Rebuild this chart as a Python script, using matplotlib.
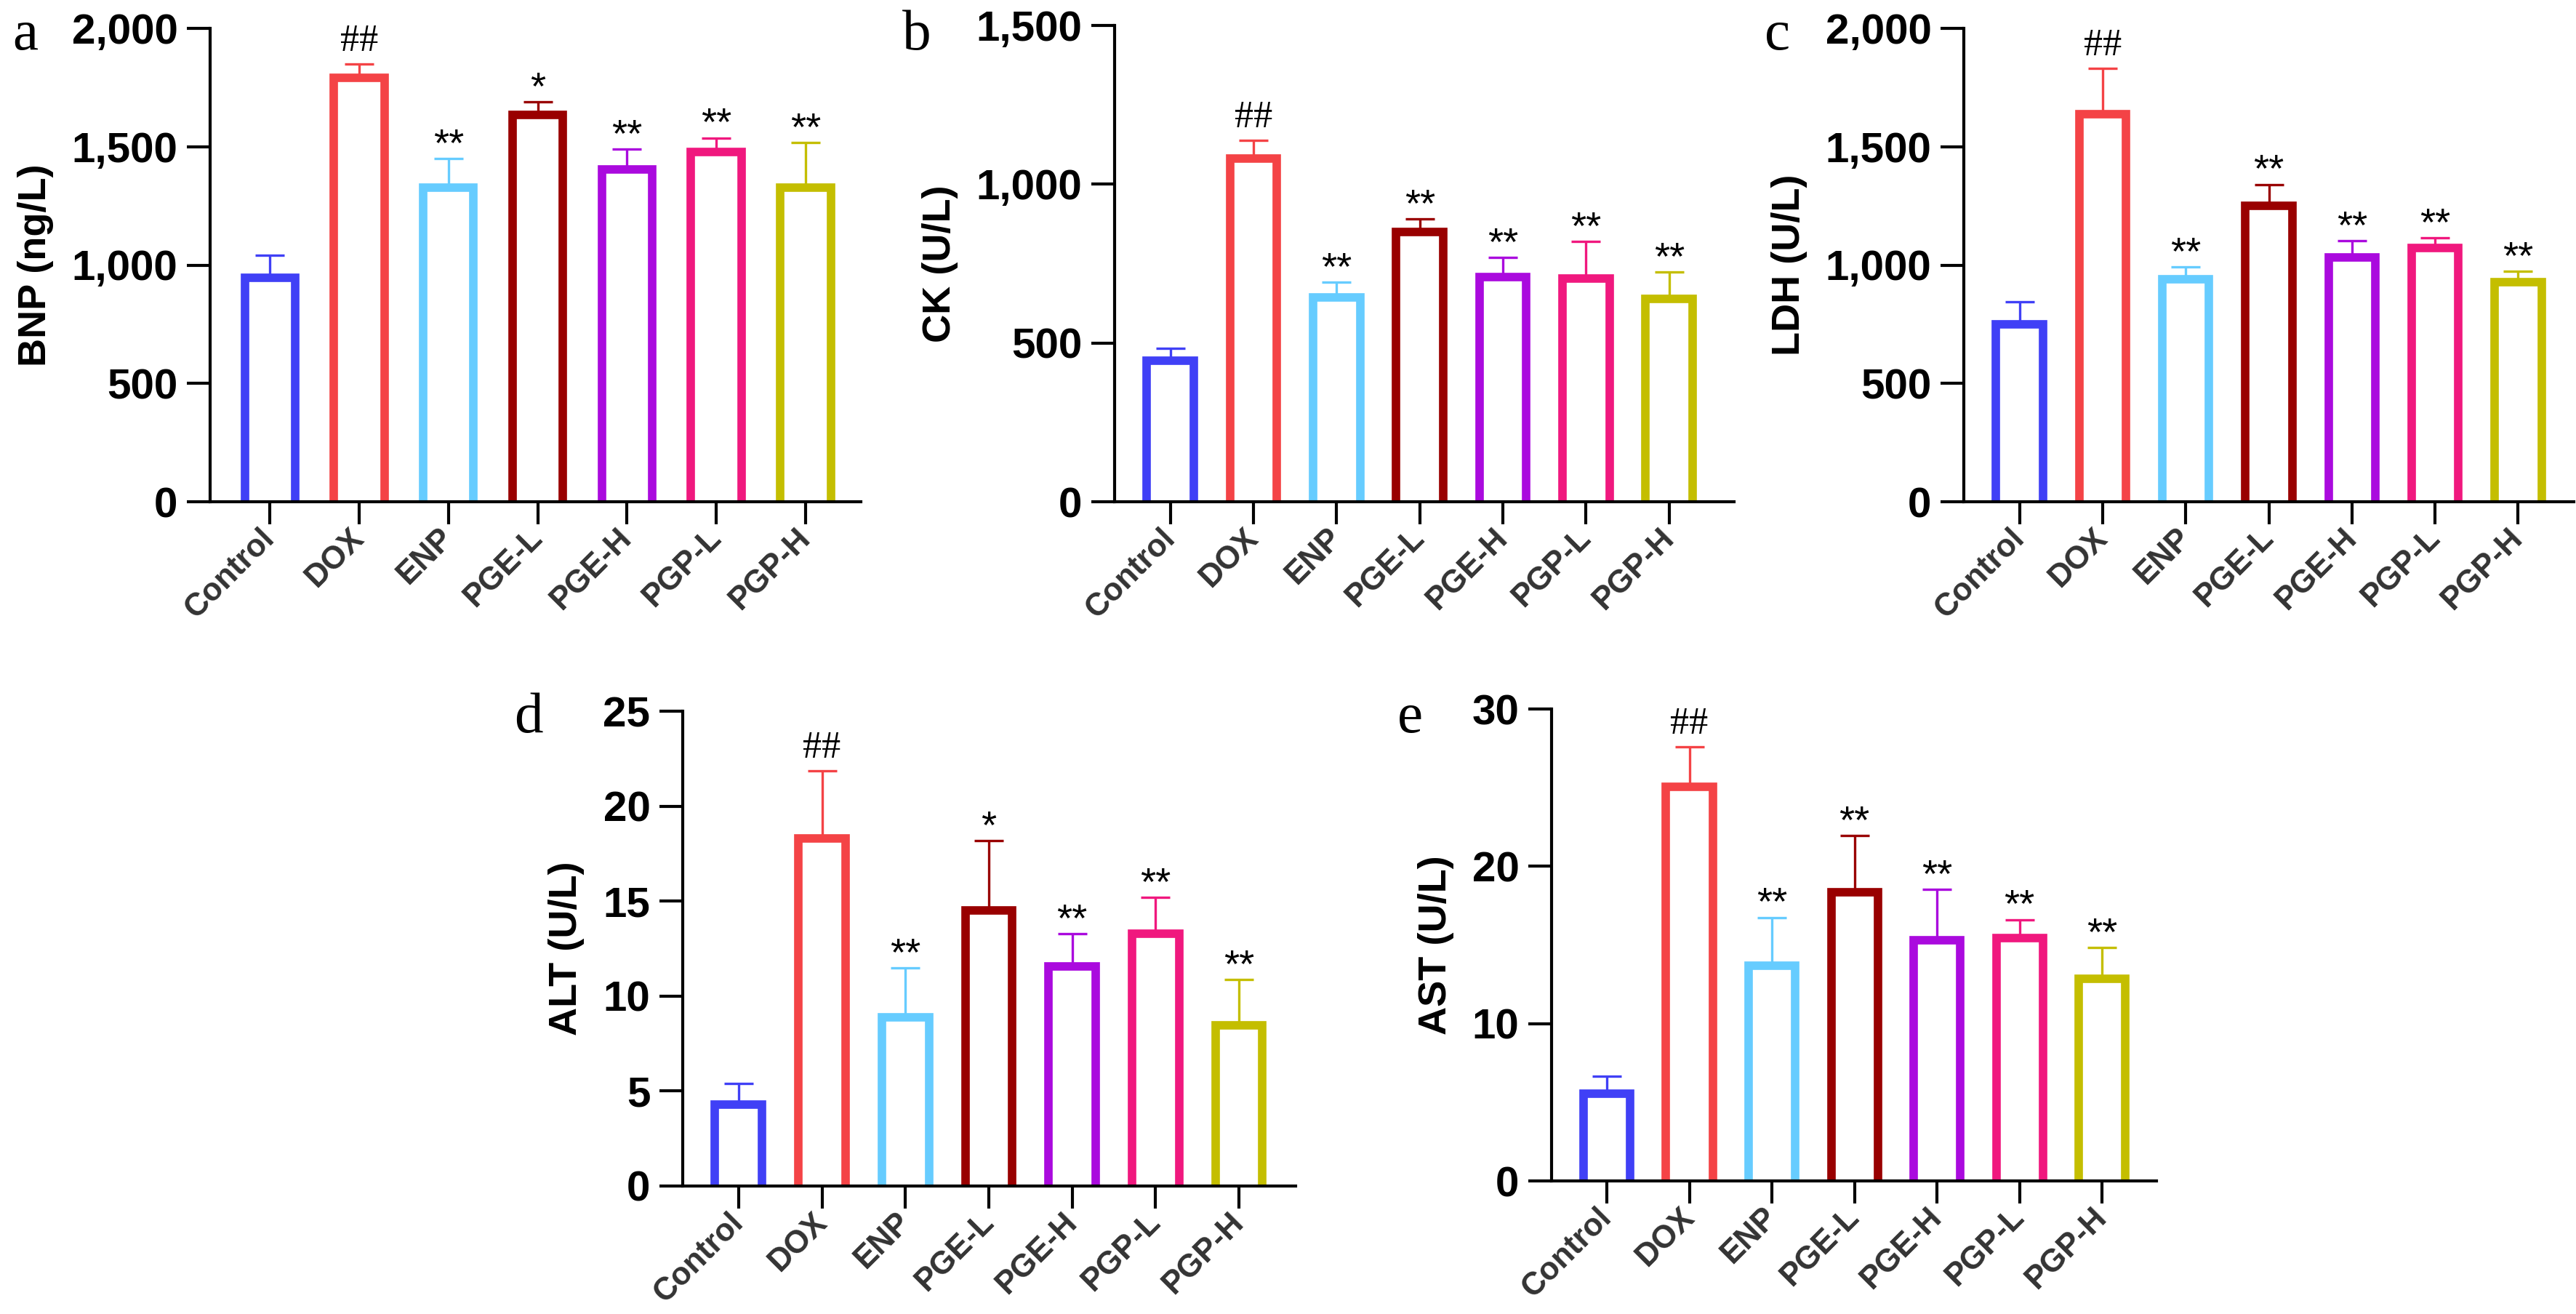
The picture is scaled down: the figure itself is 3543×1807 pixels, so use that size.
import matplotlib
matplotlib.use("Agg")
import matplotlib.pyplot as plt
import numpy as np
from matplotlib.ticker import MultipleLocator, StrMethodFormatter
from matplotlib.transforms import ScaledTranslation

plt.rcParams["font.family"] = ["Liberation Sans", "DejaVu Sans"]

groups = ["Control", "DOX", "ENP", "PGE-L", "PGE-H", "PGP-L", "PGP-H"]
colors = ["#4040F6", "#F44346", "#66CCFF", "#990000", "#AA0ADE", "#F0187E", "#C4BE00"]

bnp_mean = [946, 1790, 1327, 1635, 1404, 1479, 1326]
bnp_sd = [95, 60, 122, 55, 86, 58, 191]
bnp_marks = ["", "##", "**", "*", "**", "**", "**"]

ck_mean = [444, 1082, 644, 849, 708, 703, 639]
ck_sd = [39, 57, 47, 41, 62, 116, 84]
ck_marks = ["", "##", "**", "**", "**", "**", "**"]

ldh_mean = [751, 1637, 939, 1251, 1032, 1071, 928]
ldh_sd = [93, 193, 52, 90, 70, 43, 46]
ldh_marks = ["", "##", "**", "**", "**", "**", "**"]

alt_mean = [4.30, 18.30, 8.87, 14.52, 11.56, 13.28, 8.48]
alt_sd = [1.08, 3.56, 2.60, 3.67, 1.72, 1.92, 2.38]
alt_marks = ["", "##", "**", "*", "**", "**", "**"]

ast_mean = [5.57, 25.05, 13.66, 18.33, 15.30, 15.46, 12.87]
ast_sd = [1.07, 2.55, 3.09, 3.61, 3.22, 1.15, 1.97]
ast_marks = ["", "##", "**", "**", "**", "**", "**"]

W, H = 3543, 1807


def px_box(left, right, top, bottom):
    # pixel box of the plotting area -> figure fraction
    return [left / W, 1 - bottom / H, (right - left) / W, (bottom - top) / H]


def draw_panel(ax, means, sds, marks, ylabel, ymax, step, xright):
    x = np.arange(len(groups))
    means = np.asarray(means, dtype=float)
    sds = np.asarray(sds, dtype=float)
    for xi, m, s, c in zip(x, means, sds, colors):
        ax.errorbar(xi, m, yerr=[[0], [s]], fmt="none", ecolor=c,
                    elinewidth=0.8, capsize=4.8, capthick=0.8, zorder=1)
    # start bars a bit below zero so the bottom edge is clipped away
    base = -0.012 * ymax
    ax.bar(x, means - base, bottom=base, width=0.565, facecolor="white",
           edgecolor=colors, linewidth=2.8, zorder=2)
    for xi, top, m in zip(x, means + sds, marks):
        if not m:
            continue
        if m.startswith("#"):
            ax.annotate(m, (xi, top), xytext=(0, 4.3), textcoords="offset points",
                        ha="center", va="baseline", fontsize=12.5,
                        family=["Liberation Serif", "DejaVu Serif"])
        else:
            ax.annotate(m, (xi, top), xytext=(0, 1.0), textcoords="offset points",
                        ha="center", va="baseline", fontsize=13)

    ax.set_xlim(-0.67, xright)
    ax.set_ylim(0, ymax)
    ax.yaxis.set_major_locator(MultipleLocator(step))
    ax.yaxis.set_major_formatter(StrMethodFormatter("{x:,.0f}"))
    ax.set_xticks(x)
    ax.set_xticklabels(groups, rotation=45, ha="right", va="center",
                       rotation_mode="anchor", fontweight="bold",
                       fontsize=10.5, color="#333333")
    shift = ScaledTranslation(9 / 300, 0, ax.figure.dpi_scale_trans)
    for lab in ax.get_xticklabels():
        lab.set_transform(lab.get_transform() + shift)
    ax.tick_params(axis="x", length=7.5, width=1.0, pad=3)
    ax.tick_params(axis="y", length=7.7, width=1.0, pad=3, labelsize=14)
    for lab in ax.get_yticklabels():
        lab.set_fontweight("bold")
    ax.spines["top"].set_visible(False)
    ax.spines["right"].set_visible(False)
    ax.spines["left"].set_linewidth(1.0)
    ax.spines["bottom"].set_linewidth(1.0)
    ax.set_ylabel(ylabel, fontsize=13, fontweight="bold", labelpad=6)


fig = plt.figure(figsize=(W / 300, H / 300), dpi=300)

panels = [
    (px_box(289, 1184, 39, 690), bnp_mean, bnp_sd, bnp_marks, "BNP (ng/L)", 2000, 500, 6.62),
    (px_box(1533, 2385, 35, 690), ck_mean, ck_sd, ck_marks, "CK (U/L)", 1500, 500, 6.78),
    (px_box(2701, 3540, 39, 690), ldh_mean, ldh_sd, ldh_marks, "LDH (U/L)", 2000, 500, 6.67),
    (px_box(939, 1782, 978, 1631), alt_mean, alt_sd, alt_marks, "ALT (U/L)", 25, 5, 6.68),
    (px_box(2134, 2966, 975, 1624), ast_mean, ast_sd, ast_marks, "AST (U/L)", 30, 10, 6.66),
]
for box, m, s, mk, lab, ymax, step, xr in panels:
    ax = fig.add_axes(box)
    draw_panel(ax, m, s, mk, lab, ymax, step, xr)

letters = [("a", 17, 68), ("b", 1241, 68), ("c", 2427, 68), ("d", 707, 1007), ("e", 1922, 1007)]
for t, lx, ly in letters:
    fig.text(lx / W, 1 - ly / H, t, fontsize=19, ha="left", va="baseline",
             family=["Liberation Serif", "DejaVu Serif"])

fig.savefig("out.png", dpi=300, facecolor="white")
